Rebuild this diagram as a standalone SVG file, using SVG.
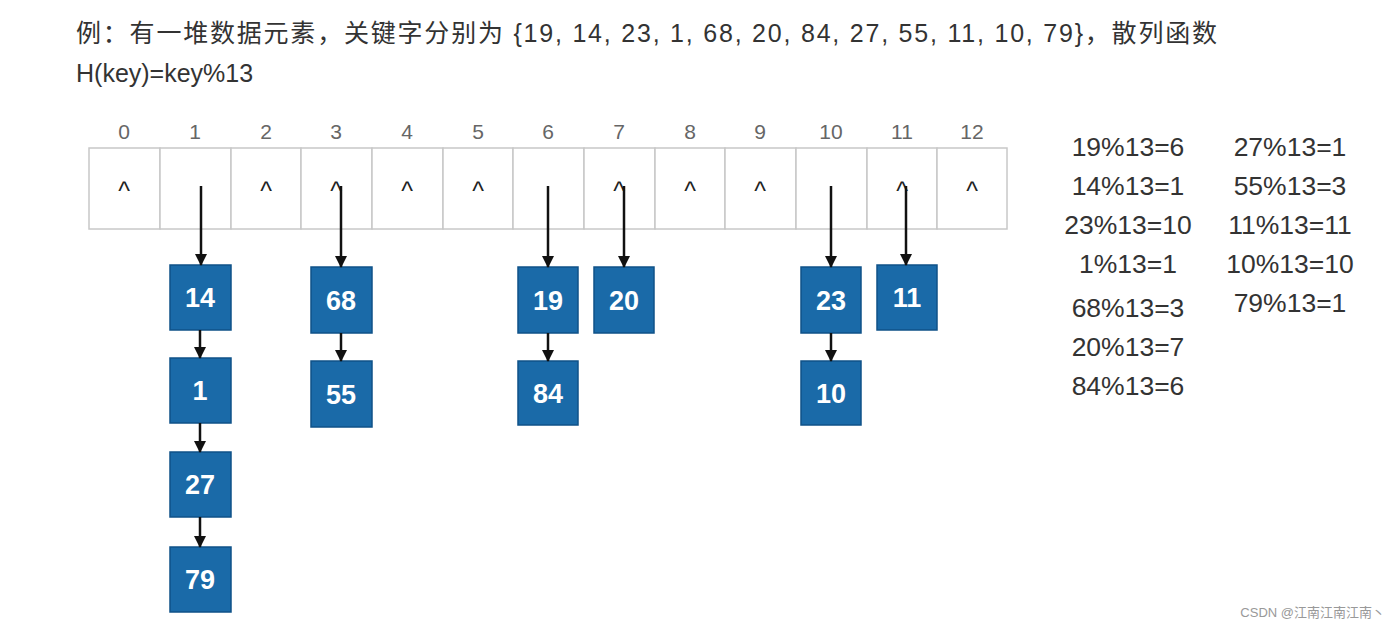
<svg xmlns="http://www.w3.org/2000/svg" width="1400" height="627" viewBox="0 0 1400 627">
<defs>
<style>
.t{font-family:"Liberation Sans","Noto Sans CJK SC",sans-serif;font-size:25px;fill:#333}
.idx{font-family:"Liberation Sans",sans-serif;font-size:21px;fill:#666;text-anchor:middle}
.cell{fill:#fff;stroke:#c8c8c8;stroke-width:1.5}
.car{font-family:"Liberation Sans",sans-serif;font-size:25px;fill:#222;text-anchor:middle}
.nd{fill:#1a6aa8;stroke:#0f5288;stroke-width:1.5}
.nt{font-family:"Liberation Sans",sans-serif;font-size:27px;font-weight:bold;fill:#fff;text-anchor:middle}
.eq{font-family:"Liberation Sans",sans-serif;font-size:26.5px;fill:#333;text-anchor:middle}
.c line{stroke:#111;stroke-width:2.5;marker-end:url(#a)}
</style>
<marker id="a" markerWidth="12" markerHeight="12" refX="11" refY="6" orient="auto" markerUnits="userSpaceOnUse"><path d="M0,0L12,6L0,12z" fill="#111"/></marker>
</defs>
<rect width="1400" height="627" fill="#fff"/>
<text class="t" x="76" y="42" textLength="1141" lengthAdjust="spacing">例：有一堆数据元素，关键字分别为 {19, 14, 23, 1, 68, 20, 84, 27, 55, 11, 10, 79}，散列函数</text>
<text class="t" x="76" y="82">H(key)=key%13</text>
<g id="array">
<g class="idx"><text x="124" y="139">0</text><text x="195" y="139">1</text><text x="266" y="139">2</text><text x="336" y="139">3</text><text x="407" y="139">4</text><text x="478" y="139">5</text><text x="548" y="139">6</text><text x="619" y="139">7</text><text x="690" y="139">8</text><text x="760" y="139">9</text><text x="831" y="139">10</text><text x="902" y="139">11</text><text x="972" y="139">12</text></g>
<rect class="cell" x="89" y="148" width="71" height="81"/><rect class="cell" x="160" y="148" width="71" height="81"/><rect class="cell" x="231" y="148" width="70" height="81"/><rect class="cell" x="301" y="148" width="71" height="81"/><rect class="cell" x="372" y="148" width="71" height="81"/><rect class="cell" x="443" y="148" width="70" height="81"/><rect class="cell" x="513" y="148" width="71" height="81"/><rect class="cell" x="584" y="148" width="71" height="81"/><rect class="cell" x="655" y="148" width="70" height="81"/><rect class="cell" x="725" y="148" width="71" height="81"/><rect class="cell" x="796" y="148" width="71" height="81"/><rect class="cell" x="867" y="148" width="70" height="81"/><rect class="cell" x="937" y="148" width="70" height="81"/>
<g class="car"><text x="124" y="200">^</text><text x="266" y="200">^</text><text x="336" y="200">^</text><text x="407" y="200">^</text><text x="478" y="200">^</text><text x="619" y="200">^</text><text x="690" y="200">^</text><text x="760" y="200">^</text><text x="902" y="200">^</text><text x="972" y="200">^</text></g>
</g>
<g id="n14"><rect class="nd" x="170" y="265" width="61" height="65"/><text class="nt" x="200" y="307">14</text></g>
<g id="n1"><rect class="nd" x="170" y="358" width="61" height="65"/><text class="nt" x="200" y="400">1</text></g>
<g id="n27"><rect class="nd" x="170" y="452" width="61" height="65"/><text class="nt" x="200" y="494">27</text></g>
<g id="n79"><rect class="nd" x="170" y="547" width="61" height="65"/><text class="nt" x="200" y="589">79</text></g>
<g id="n68"><rect class="nd" x="311" y="267" width="61" height="66"/><text class="nt" x="341" y="310">68</text></g>
<g id="n55"><rect class="nd" x="311" y="361" width="61" height="66"/><text class="nt" x="341" y="404">55</text></g>
<g id="n19"><rect class="nd" x="518" y="267" width="60" height="66"/><text class="nt" x="548" y="310">19</text></g>
<g id="n84"><rect class="nd" x="518" y="361" width="60" height="64"/><text class="nt" x="548" y="403">84</text></g>
<g id="n20"><rect class="nd" x="594" y="267" width="60" height="66"/><text class="nt" x="624" y="310">20</text></g>
<g id="n23"><rect class="nd" x="801" y="267" width="60" height="66"/><text class="nt" x="831" y="310">23</text></g>
<g id="n10"><rect class="nd" x="801" y="361" width="60" height="64"/><text class="nt" x="831" y="403">10</text></g>
<g id="n11"><rect class="nd" x="877" y="265" width="60" height="65"/><text class="nt" x="907" y="307">11</text></g>
<g class="c" id="connectors">
<line x1="201" y1="186" x2="201" y2="265"/><line x1="200" y1="330" x2="200" y2="358"/><line x1="200" y1="423" x2="200" y2="452"/><line x1="200" y1="517" x2="200" y2="547"/>
<line x1="341" y1="186" x2="341" y2="267"/><line x1="341" y1="333" x2="341" y2="361"/>
<line x1="548" y1="186" x2="548" y2="267"/><line x1="548" y1="333" x2="548" y2="361"/>
<line x1="624" y1="186" x2="624" y2="267"/>
<line x1="831" y1="186" x2="831" y2="267"/><line x1="831" y1="333" x2="831" y2="361"/>
<line x1="906" y1="186" x2="906" y2="265"/>
</g>
<g class="eq">
<text x="1128" y="156">19%13=6</text><text x="1128" y="195">14%13=1</text><text x="1128" y="234">23%13=10</text><text x="1128" y="273">1%13=1</text><text x="1128" y="317">68%13=3</text><text x="1128" y="356">20%13=7</text><text x="1128" y="395">84%13=6</text>
<text x="1290" y="156">27%13=1</text><text x="1290" y="195">55%13=3</text><text x="1290" y="234">11%13=11</text><text x="1290" y="273">10%13=10</text><text x="1290" y="312">79%13=1</text>
</g>
<text x="1385" y="617" text-anchor="end" style="font-family:'Liberation Sans','Noto Sans CJK SC',sans-serif;font-size:13px;fill:#999">CSDN @江南江南江南丶</text>
</svg>
